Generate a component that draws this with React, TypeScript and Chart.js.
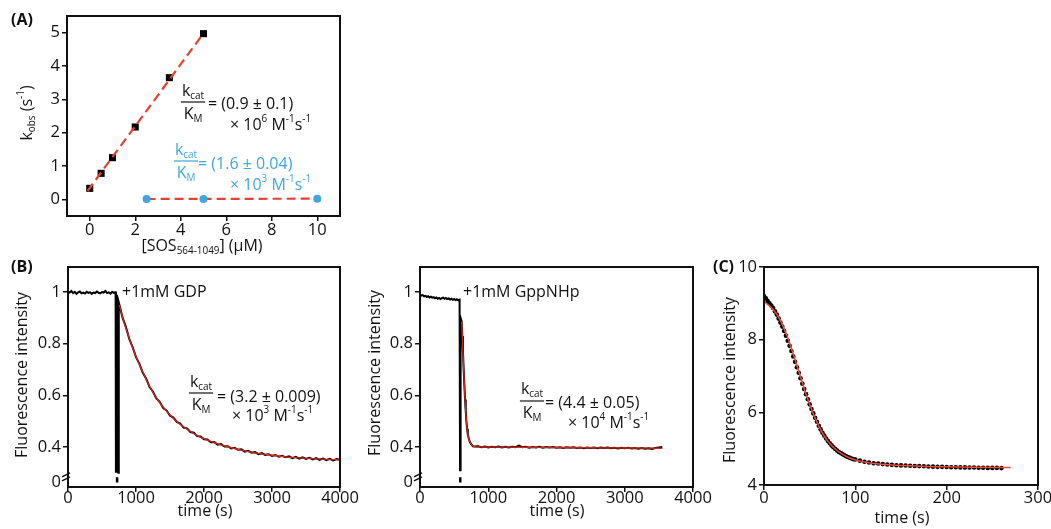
import React, { useEffect, useRef } from 'react';
import { Chart, registerables } from 'chart.js';
Chart.register(...registerables);

const FONT = '"Open Sans", Lato, "DejaVu Sans", sans-serif';
const TICK_SIZE = 16.5;
const TEXT_SIZE = 16;
const INK = '#111111';
const RED_A = '#e8402f';
const RED_B = '#d3261b';
const RED_C = '#ee4b3b';
const BLUE = '#3fa6df';

// ---------- Panel A : kobs vs [SOS] ----------
const sosConc = [0, 0.5, 1, 2, 3.5, 5];
const kobsWT = [0.33, 0.78, 1.25, 2.17, 3.65, 4.97];
const fitWTConc = [-0.1, 5.0];
const fitWTKobs = [0.25, 4.98];
const sosConcMut = [2.5, 5, 10];
const kobsMut = [0.01, 0.01, 0.02];
const fitMutConc = [2.5, 10];
const fitMutKobs = [0.01, 0.02];
const aXTicks = [0, 2, 4, 6, 8, 10];
const aYTicks = [0, 1, 2, 3, 4, 5];

// ---------- Panel B (left): +1mM GDP ----------
const gdpBaseTime = [0, 25, 50, 75, 100, 125, 150, 175, 200, 225, 250, 275, 300, 325, 350, 375, 400, 425, 450, 475, 500, 525, 550, 575, 600, 625, 650, 675, 700,
  705, 711, 717, 723, 729, 735, 741, 747];
const gdpBaseSignal = [1.003, 0.998, 1.004, 0.996, 1.001, 0.993, 0.999, 1.002, 0.995, 0.998, 0.994, 1.001, 0.997, 0.999, 0.993, 0.998, 0.996, 1.002, 0.997, 0.995, 1.000, 0.998, 1.004, 0.996, 0.999, 0.994, 1.001, 0.997, 0.999,
  0.30, 0.99, 0.30, 0.98, 0.30, 0.97, 0.30, 0.96];
const gdpDecayTime = [755, 800, 850, 900, 950, 1000, 1050, 1100, 1150, 1200, 1250, 1300, 1350, 1400, 1450, 1500, 1550, 1600, 1650, 1700, 1750, 1800, 1850, 1900, 1950, 2000,
  2050, 2100, 2150, 2200, 2250, 2300, 2350, 2400, 2450, 2500, 2550, 2600, 2650, 2700, 2750, 2800, 2850, 2900, 2950, 3000,
  3050, 3100, 3150, 3200, 3250, 3300, 3350, 3400, 3450, 3500, 3550, 3600, 3650, 3700, 3750, 3800, 3850, 3900, 3950, 4000];
const gdpDecaySignal = [0.952, 0.903, 0.866, 0.819, 0.787, 0.748, 0.722, 0.687, 0.664, 0.632, 0.614, 0.588, 0.574, 0.551, 0.541, 0.521, 0.514, 0.497, 0.491, 0.475, 0.472, 0.458, 0.455, 0.442, 0.441, 0.430,
  0.429, 0.418, 0.419, 0.409, 0.411, 0.402, 0.403, 0.394, 0.397, 0.389, 0.391, 0.382, 0.385, 0.378, 0.380, 0.372, 0.376, 0.369, 0.372, 0.365,
  0.369, 0.362, 0.366, 0.360, 0.364, 0.357, 0.362, 0.355, 0.360, 0.354, 0.358, 0.352, 0.357, 0.350, 0.355, 0.349, 0.354, 0.348, 0.353, 0.350];
const gdpFitTime = [755, 800, 900, 1000, 1100, 1200, 1300, 1400, 1500, 1600, 1700, 1800, 1900, 2000, 2200, 2400, 2600, 2800, 3000, 3200, 3400, 3600, 3800, 4000];
const gdpFitSignal = [0.950, 0.905, 0.822, 0.750, 0.690, 0.635, 0.590, 0.554, 0.524, 0.499, 0.478, 0.460, 0.445, 0.432, 0.412, 0.397, 0.385, 0.375, 0.368, 0.362, 0.358, 0.355, 0.352, 0.350];
const gdpGapTime = [722, 722];
const gdpGapSignal = [0.283, 0.262];

// ---------- Panel B (right): +1mM GppNHp ----------
const gppBaseTime = [0, 20, 40, 60, 80, 100, 120, 140, 160, 180, 200, 220, 240, 260, 280, 300, 320, 340, 360, 380, 400, 420, 440, 460, 480, 500, 520, 540, 560, 580,
  587, 595];
const gppBaseSignal = [0.990, 0.986, 0.988, 0.983, 0.985, 0.981, 0.984, 0.979, 0.982, 0.978, 0.980, 0.976, 0.979, 0.974, 0.977, 0.973, 0.976, 0.978, 0.974, 0.977, 0.973, 0.975, 0.971, 0.974, 0.970, 0.973, 0.969, 0.972, 0.968, 0.970,
  0.31, 0.90];
const gppDecayTime = [610, 620, 630, 640, 650, 660, 670, 680, 690, 700, 715, 730, 750, 775, 800,
  850, 900, 950, 1000, 1050, 1100, 1150, 1200, 1250, 1300, 1350, 1400, 1450, 1500, 1550, 1600, 1650, 1700, 1750, 1800, 1850, 1900, 1950, 2000,
  2050, 2100, 2150, 2200, 2250, 2300, 2350, 2400, 2450, 2500, 2550, 2600, 2650, 2700, 2750, 2800, 2850, 2900, 2950, 3000,
  3050, 3100, 3150, 3200, 3250, 3300, 3350, 3400, 3450, 3500, 3550];
const gppDecaySignal = [0.886, 0.829, 0.766, 0.699, 0.641, 0.584, 0.541, 0.499, 0.471, 0.449, 0.433, 0.419, 0.411, 0.403, 0.402,
  0.403, 0.399, 0.402, 0.398, 0.401, 0.399, 0.402, 0.398, 0.401, 0.398, 0.401, 0.399, 0.405, 0.399, 0.401, 0.397, 0.400, 0.398, 0.401, 0.397, 0.400, 0.398, 0.400, 0.397,
  0.399, 0.396, 0.399, 0.397, 0.399, 0.396, 0.398, 0.395, 0.398, 0.396, 0.398, 0.395, 0.398, 0.396, 0.398, 0.395, 0.397, 0.394, 0.397, 0.395,
  0.397, 0.394, 0.396, 0.393, 0.396, 0.393, 0.395, 0.392, 0.396, 0.398, 0.400];
const gppFitTime = [610, 620, 630, 640, 650, 660, 670, 680, 690, 700, 715, 730, 750, 775, 800, 900, 1500, 2000, 2500, 3000, 3550];
const gppFitSignal = [0.885, 0.83, 0.765, 0.70, 0.64, 0.585, 0.54, 0.50, 0.47, 0.45, 0.432, 0.42, 0.41, 0.404, 0.401, 0.400, 0.399, 0.398, 0.397, 0.396, 0.395];
const gppGapTime = [590, 590];
const gppGapSignal = [0.283, 0.262];

const bXTicks = [0, 1000, 2000, 3000, 4000];
const bYTicks = [0.265, 0.4, 0.6, 0.8, 1];
const bYTickLabels = ['0', '0.4', '0.6', '0.8', '1'];
const bBreakValue = 0.284;

// ---------- Panel C ----------
const cTime = [0, 2, 4, 6, 8, 10, 12, 14, 16, 18, 20, 22, 24, 26, 28, 30, 32, 34, 36, 38, 40, 42, 44, 46, 48, 50,
  52, 54, 56, 58, 60, 62, 64, 66, 68, 70, 72, 74, 76, 78, 80, 82, 84, 86, 88, 90, 92, 94, 96, 98, 100,
  105, 110, 115, 120, 125, 130, 135, 140, 145, 150, 155, 160, 165, 170, 175, 180, 185, 190, 195, 200,
  205, 210, 215, 220, 225, 230, 235, 240, 245, 250, 255, 260];
const cSignal = [9.20, 9.14, 9.06, 9.00, 8.94, 8.87, 8.78, 8.69, 8.58, 8.47, 8.36, 8.24, 8.11, 7.97, 7.83, 7.69, 7.54, 7.39, 7.24, 7.09, 6.94, 6.79, 6.64, 6.50, 6.36, 6.22,
  6.09, 5.97, 5.85, 5.74, 5.63, 5.53, 5.44, 5.36, 5.28, 5.21, 5.15, 5.09, 5.04, 4.99, 4.95, 4.91, 4.88, 4.85, 4.82, 4.79, 4.77, 4.75, 4.73, 4.71, 4.70,
  4.67, 4.64, 4.62, 4.60, 4.59, 4.575, 4.565, 4.555, 4.545, 4.54, 4.535, 4.53, 4.525, 4.52, 4.515, 4.51, 4.505, 4.50, 4.50, 4.495,
  4.49, 4.49, 4.485, 4.485, 4.48, 4.48, 4.475, 4.475, 4.47, 4.47, 4.47, 4.465];
const cFitTime = [0, 5, 10, 15, 20, 25, 30, 35, 40, 45, 50, 55, 60, 65, 70, 75, 80, 90, 100, 110, 120, 140, 160, 180, 200, 230, 270];
const cFitSignal = [9.05, 8.95, 8.83, 8.66, 8.42, 8.12, 7.76, 7.37, 6.97, 6.58, 6.22, 5.90, 5.62, 5.39, 5.20, 5.06, 4.95, 4.79, 4.69, 4.63, 4.59, 4.55, 4.53, 4.51, 4.50, 4.49, 4.48];
const cXTicks = [0, 100, 200, 300];
const cYTicks = [4, 6, 8, 10];

// ---------- helpers ----------
const pts = (xs: number[], ys: number[]) => xs.map((x, i) => ({ x, y: ys[i] }));

type Seg = [string, string?];

function segWidth(ctx: CanvasRenderingContext2D, segs: Seg[], size: number) {
  let w = 0;
  for (const [t, k] of segs) {
    ctx.font = `${k ? size * 0.62 : size}px ${FONT}`;
    w += ctx.measureText(t).width;
  }
  return w;
}

function drawRich(ctx: CanvasRenderingContext2D, segs: Seg[], x: number, y: number, size: number, color: string, align = 'left') {
  ctx.save();
  ctx.fillStyle = color;
  ctx.textBaseline = 'middle';
  ctx.textAlign = 'left';
  const w = segWidth(ctx, segs, size);
  let cx = align === 'center' ? x - w / 2 : x;
  for (const [t, k] of segs) {
    const fs = k ? size * 0.62 : size;
    ctx.font = `${fs}px ${FONT}`;
    const dy = k === 'sub' ? size * 0.32 : k === 'sup' ? -size * 0.34 : 0;
    ctx.fillText(t, cx, y + dy);
    cx += ctx.measureText(t).width;
  }
  ctx.restore();
  return w;
}

function drawFrac(ctx: CanvasRenderingContext2D, cx: number, yTop: number, yBar: number, yBot: number, color: string) {
  const top: Seg[] = [['k'], ['cat', 'sub']];
  const bot: Seg[] = [['K'], ['M', 'sub']];
  const w1 = drawRich(ctx, top, cx, yTop, TEXT_SIZE, color, 'center');
  const w2 = drawRich(ctx, bot, cx, yBot, TEXT_SIZE, color, 'center');
  const hw = Math.max(w1, w2) / 2 + 1;
  ctx.save();
  ctx.strokeStyle = color;
  ctx.lineWidth = 1.2;
  ctx.beginPath();
  ctx.moveTo(cx - hw, yBar);
  ctx.lineTo(cx + hw, yBar);
  ctx.stroke();
  ctx.restore();
}

function unitsLine(exp: string): Seg[] {
  return [['\u00d7 10'], [exp, 'sup'], [' M'], ['-1', 'sup'], ['s'], ['-1', 'sup']];
}

function drawRotated(ctx: CanvasRenderingContext2D, segs: Seg[], x: number, y: number) {
  ctx.save();
  ctx.translate(x, y);
  ctx.rotate(-Math.PI / 2);
  drawRich(ctx, segs, 0, 0, TEXT_SIZE, INK, 'center');
  ctx.restore();
}

function drawLabel(ctx: CanvasRenderingContext2D, t: string, x: number, y: number) {
  ctx.save();
  ctx.font = `bold 16px ${FONT}`;
  ctx.fillStyle = INK;
  ctx.textBaseline = 'middle';
  ctx.fillText(t, x, y);
  ctx.restore();
}

function drawBreak(ctx: CanvasRenderingContext2D, chart: any) {
  const x = chart.chartArea.left;
  const y = chart.scales.y.getPixelForValue(bBreakValue);
  ctx.save();
  ctx.strokeStyle = INK;
  ctx.lineWidth = 1.5;
  ctx.beginPath();
  ctx.moveTo(x - 6, y + 0);
  ctx.lineTo(x + 2, y - 4);
  ctx.moveTo(x - 6, y + 4);
  ctx.lineTo(x + 2, y + 0);
  ctx.stroke();
  ctx.restore();
}

type Area = { l: number; t: number; r: number; b: number };
type AxisDef = { min: number; max: number; ticks: number[]; labels?: string[]; hideFirstTick?: boolean; pad?: number };
type PanelDef = {
  x: number; y: number; w: number; h: number; area: Area;
  xAxis: AxisDef; yAxis: AxisDef;
  datasets: any[];
  draw: (ctx: CanvasRenderingContext2D, chart: any) => void;
};

function makeConfig(p: PanelDef): any {
  const a = { l: p.area.l - p.x, t: p.area.t - p.y, r: p.area.r - p.x, b: p.area.b - p.y };
  const axis = (def: AxisDef, isX: boolean) => ({
    type: 'linear',
    min: def.min,
    max: def.max,
    afterBuildTicks: (s: any) => { s.ticks = def.ticks.map((v) => ({ value: v })); },
    afterFit: (s: any) => {
      if (isX) s.height = p.h - a.b; else s.width = a.l;
      s.paddingLeft = 0; s.paddingRight = 0; s.paddingTop = 0; s.paddingBottom = 0;
    },
    ticks: {
      color: INK,
      font: { family: FONT, size: TICK_SIZE, lineHeight: 1 },
      padding: def.pad !== undefined ? def.pad : 2,
      maxRotation: 0,
      autoSkip: false,
      callback: (v: number, i: number) => (def.labels ? def.labels[i] : String(v)),
    },
    grid: {
      display: true,
      drawOnChartArea: false,
      drawTicks: true,
      tickLength: 5,
      tickWidth: 1.5,
      lineWidth: 1.5,
      color: INK,
      tickColor: def.hideFirstTick
        ? (c: any) => (c.tick && c.tick.value === def.ticks[0] ? 'rgba(0,0,0,0)' : INK)
        : INK,
    },
    border: { display: false },
    title: { display: false },
  });
  const frame = {
    id: 'frame',
    afterDraw(chart: any) {
      const { ctx, chartArea: c } = chart;
      ctx.save();
      ctx.strokeStyle = INK;
      ctx.lineWidth = 2;
      ctx.strokeRect(c.left, c.top, c.right - c.left, c.bottom - c.top);
      ctx.translate(-p.x, -p.y);
      p.draw(ctx, chart);
      ctx.restore();
    },
  };
  return {
    type: 'scatter',
    data: { datasets: p.datasets },
    options: {
      responsive: false,
      animation: false,
      events: [],
      layout: { padding: { left: 0, top: a.t, right: p.w - a.r, bottom: 0 } },
      plugins: { legend: { display: false }, tooltip: { enabled: false }, title: { display: false } },
      scales: { x: axis(p.xAxis, true), y: axis(p.yAxis, false) },
    },
    plugins: [frame],
  };
}

const lineDs = (data: any[], color: string, width: number, extra: any = {}) => ({
  data, showLine: true, borderColor: color, borderWidth: width, pointRadius: 0, fill: false, ...extra,
});

const panels: PanelDef[] = [
  {
    x: 0, y: 0, w: 360, h: 262,
    area: { l: 67, t: 16, r: 340, b: 216 },
    xAxis: { min: -1, max: 11, ticks: aXTicks, pad: 1 },
    yAxis: { min: -0.5, max: 5.5, ticks: aYTicks },
    datasets: [
      { data: pts(sosConcMut, kobsMut), pointRadius: 4, backgroundColor: BLUE, borderWidth: 0 },
      lineDs(pts(fitWTConc, fitWTKobs), RED_A, 2.2, { borderDash: [9, 5] }),
      lineDs(pts(fitMutConc, fitMutKobs), RED_A, 2.2, { borderDash: [9, 5] }),
      { data: pts(sosConc, kobsWT), pointStyle: 'rect', pointRadius: 5, backgroundColor: '#000', borderWidth: 0 },
    ],
    draw: (ctx) => {
      drawLabel(ctx, '(A)', 11, 20);
      drawRotated(ctx, [['k'], ['obs', 'sub'], [' (s'], ['-1', 'sup'], [')']], 27, 113);
      drawRich(ctx, [['[SOS'], ['564-1049', 'sub'], ['] (\u03bcM)']], 202, 246, TEXT_SIZE, INK, 'center');
      drawFrac(ctx, 193, 91, 102, 114, INK);
      drawRich(ctx, [['= (0.9 \u00b1 0.1)']], 208, 104, TEXT_SIZE, INK);
      drawRich(ctx, unitsLine('6'), 230, 125, TEXT_SIZE, INK);
      drawFrac(ctx, 186, 150, 161, 173, BLUE);
      drawRich(ctx, [['= (1.6 \u00b1 0.04)']], 198, 164, TEXT_SIZE, BLUE);
      drawRich(ctx, unitsLine('3'), 230, 185, TEXT_SIZE, BLUE);
    },
  },
  {
    x: 0, y: 255, w: 360, h: 274,
    area: { l: 68, t: 267, r: 340, b: 487 },
    xAxis: { min: 0, max: 4000, ticks: bXTicks, pad: -2 },
    yAxis: { min: 0.245, max: 1.097, ticks: bYTicks, labels: bYTickLabels, hideFirstTick: true },
    datasets: [
      lineDs(pts(gdpFitTime, gdpFitSignal), RED_B, 1.3, { cubicInterpolationMode: 'monotone' }),
      lineDs(pts(gdpGapTime, gdpGapSignal), '#000', 2.5),
      lineDs(pts(gdpBaseTime.concat(gdpDecayTime), gdpBaseSignal.concat(gdpDecaySignal)), '#000', 2),
    ],
    draw: (ctx, chart) => {
      drawLabel(ctx, '(B)', 11, 267);
      drawRotated(ctx, [['Fluorescence intensity']], 22, 375);
      drawRich(ctx, [['time (s)']], 205, 511, TEXT_SIZE, INK, 'center');
      drawRich(ctx, [['+1mM GDP']], 122, 292, TEXT_SIZE, INK);
      drawFrac(ctx, 201, 382, 393, 405, INK);
      drawRich(ctx, [['= (3.2 \u00b1 0.009)']], 217, 397, TEXT_SIZE, INK);
      drawRich(ctx, unitsLine('3'), 232, 416, TEXT_SIZE, INK);
      ctx.save();
      ctx.translate(0, 255);
      drawBreak(ctx, chart);
      ctx.restore();
    },
  },
  {
    x: 355, y: 255, w: 365, h: 274,
    area: { l: 420, t: 267, r: 693, b: 487 },
    xAxis: { min: 0, max: 4000, ticks: bXTicks, pad: -2 },
    yAxis: { min: 0.245, max: 1.097, ticks: bYTicks, labels: bYTickLabels, hideFirstTick: true },
    datasets: [
      lineDs(pts(gppFitTime, gppFitSignal), RED_B, 1.3, { cubicInterpolationMode: 'monotone' }),
      lineDs(pts(gppGapTime, gppGapSignal), '#000', 2.5),
      lineDs(pts(gppBaseTime.concat(gppDecayTime), gppBaseSignal.concat(gppDecaySignal)), '#000', 2),
    ],
    draw: (ctx, chart) => {
      drawRotated(ctx, [['Fluorescence intensity']], 375, 373);
      drawRich(ctx, [['time (s)']], 557, 511, TEXT_SIZE, INK, 'center');
      drawRich(ctx, [['+1mM GppNHp']], 463, 292, TEXT_SIZE, INK);
      drawFrac(ctx, 532, 389, 401, 413, INK);
      drawRich(ctx, [['= (4.4 \u00b1 0.05)']], 545, 403, TEXT_SIZE, INK);
      drawRich(ctx, unitsLine('4'), 568, 423, TEXT_SIZE, INK);
      ctx.save();
      ctx.translate(355, 255);
      drawBreak(ctx, chart);
      ctx.restore();
    },
  },
  {
    x: 700, y: 255, w: 351, h: 274,
    area: { l: 764, t: 267, r: 1038, b: 485 },
    xAxis: { min: 0, max: 300, ticks: cXTicks, pad: 0 },
    yAxis: { min: 4, max: 10, ticks: cYTicks },
    datasets: [
      lineDs(pts(cFitTime, cFitSignal), RED_C, 1.5, { cubicInterpolationMode: 'monotone' }),
      { data: pts(cTime, cSignal), pointRadius: 2.3, backgroundColor: '#000', borderWidth: 0 },
    ],
    draw: (ctx) => {
      drawLabel(ctx, '(C)', 713, 267);
      drawRotated(ctx, [['Fluorescence intensity']], 730, 380);
      drawRich(ctx, [['time (s)']], 902, 518, TEXT_SIZE, INK, 'center');
    },
  },
];

function Panel({ def }: { def: PanelDef }) {
  const ref = useRef<HTMLCanvasElement>(null);
  useEffect(() => {
    const chart = new Chart(ref.current as HTMLCanvasElement, makeConfig(def));
    return () => chart.destroy();
  }, [def]);
  return (
    <canvas
      ref={ref}
      width={def.w}
      height={def.h}
      style={{ position: 'absolute', left: def.x, top: def.y, width: def.w, height: def.h }}
    />
  );
}

export default function App() {
  return (
    <div style={{ position: 'absolute', left: 0, top: 0, width: 1051, height: 529, background: '#fff', overflow: 'hidden' }}>
      {panels.map((p, i) => (
        <Panel key={i} def={p} />
      ))}
    </div>
  );
}
